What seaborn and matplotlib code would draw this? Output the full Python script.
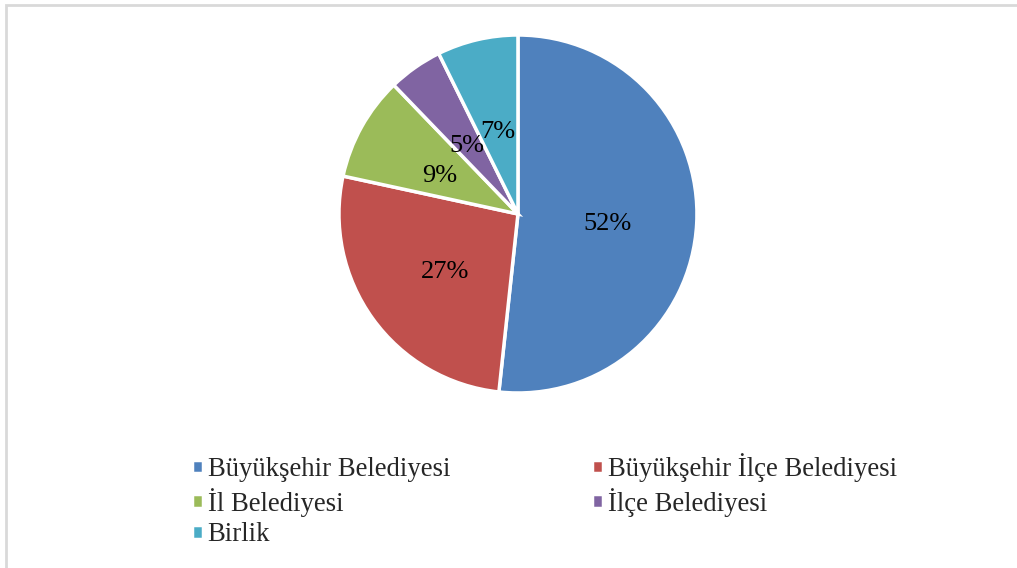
import matplotlib.pyplot as plt
import seaborn as sns
from matplotlib.patches import Rectangle

# Dados do gráfico
kategoriler = ['Büyükşehir Belediyesi', 'Büyükşehir İlçe Belediyesi', 'İl Belediyesi',
               'İlçe Belediyesi', 'Birlik']
oranlar = [51.7, 26.7, 9.4, 4.9, 7.3]
renkler = ['#4F81BD', '#C0504D', '#9BBB59', '#8064A2', '#4BACC6']

sns.set_style('white')
plt.rcParams['font.family'] = ['Liberation Serif', 'DejaVu Serif']

fig = plt.figure(figsize=(10.17, 5.68), dpi=100)
ax = fig.add_axes([0.3333, 0.3081, 0.352, 0.6303])

wedges, texts, autotexts = ax.pie(
    oranlar, colors=renkler, startangle=90, counterclock=False,
    autopct='%.0f%%', pctdistance=0.5,
    wedgeprops={'edgecolor': 'white', 'linewidth': 2.5},
    textprops={'fontsize': 19, 'color': 'black'})
# etiketleri biraz aşağı kaydır
for t in autotexts:
    x, y = t.get_position()
    t.set_position((x, y - 0.03))
ax.set_xlim(-1, 1)
ax.set_ylim(-1, 1)
ax.set_aspect('equal')

# Lejant (2 sütun, satır sırasıyla)
sira = [0, 2, 4, 1, 3]
fig.legend([wedges[i] for i in sira], [kategoriler[i] for i in sira],
           loc='upper left', bbox_to_anchor=(0.178, 0.221),
           ncol=2, frameon=False, fontsize=19.3, handlelength=0.42, handleheight=0.42,
           handletextpad=0.17, columnspacing=5.3, labelspacing=0.21, borderaxespad=0)

# Çerçeve
fig.patches.append(Rectangle((6 / 1017, -0.05), 1.1, 1 - 5.5 / 568 + 0.05,
                             transform=fig.transFigure, fill=False,
                             edgecolor='#D9D9D9', linewidth=2))

fig.savefig('out.png', dpi=100)
